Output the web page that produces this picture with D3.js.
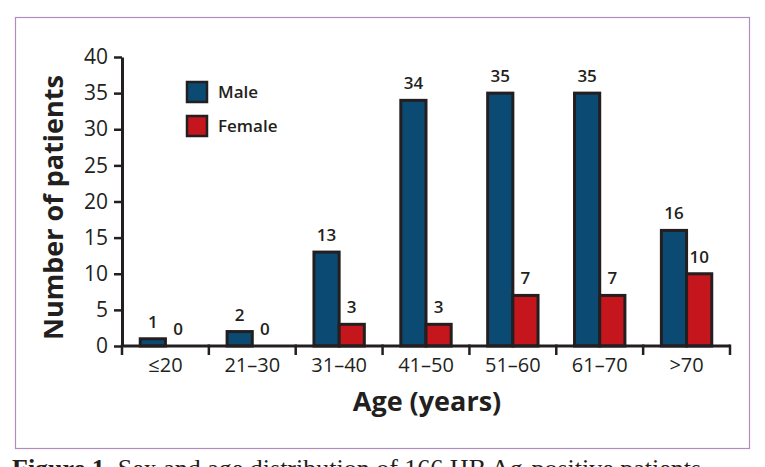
<!DOCTYPE html>
<html>
<head>
<meta charset="utf-8">
<script src="https://cdn.jsdelivr.net/npm/d3@7"></script>
<style>
  html, body { margin: 0; padding: 0; background: #fff; }
  svg { display: block; }
</style>
</head>
<body>
<div id="chart"></div>
<script>
// Data
const ageGroups   = ["≤20", "21–30", "31–40", "41–50", "51–60", "61–70", ">70"];
const maleCounts   = [1, 2, 13, 34, 35, 35, 16];
const femaleCounts = [0, 0, 3, 3, 7, 7, 10];
const seriesNames  = ["Male", "Female"];
const yTicks       = [0, 5, 10, 15, 20, 25, 30, 35, 40];

const config = {
  width      : 765,
  height     : 467,
  margin     : { left: 122, right: 35, top: 57, bottom: 121 },
  colors     : { Male: "#0b4a72", Female: "#c4161c" },
  stroke     : "#231f20",
  frameColor : "#b08cc0",
  font       : "'Open Sans', 'Noto Sans', sans-serif",
  serif      : "'Liberation Serif', 'DejaVu Serif', serif",
};

const rows = ageGroups.map(function (g, i) {
  return { group: g, Male: maleCounts[i], Female: femaleCounts[i] };
});

const svg = d3.select("#chart")
  .append("svg")
    .attr("width", config.width)
    .attr("height", config.height);

// figure frame
svg.append("rect")
    .attr("x", 15.5)
    .attr("y", 17.5)
    .attr("width", 734)
    .attr("height", 431)
    .attr("fill", "none")
    .attr("stroke", config.frameColor)
    .attr("stroke-width", 1.2);

const plotW = config.width - config.margin.left - config.margin.right;
const plotH = config.height - config.margin.top - config.margin.bottom;

const g = svg.append("g")
    .attr("transform", "translate(" + config.margin.left + "," + config.margin.top + ")");

const x0 = d3.scaleBand()
  .domain(ageGroups)
  .range([0, plotW])
  .paddingInner(0)
  .paddingOuter(0);

const bw = x0.bandwidth();
const x1 = d3.scaleBand()
  .domain(seriesNames)
  .range([bw * 0.21, bw * 0.79]);

const y = d3.scaleLinear()
  .domain([0, 40])
  .range([plotH, 0]);

// bars
const groups = g.selectAll(".group")
  .data(rows)
  .enter()
  .append("g")
    .attr("class", "group")
    .attr("transform", function (d) { return "translate(" + x0(d.group) + ",0)"; });

groups.selectAll("rect")
  .data(function (d) { return seriesNames.map(function (k) { return { key: k, value: d[k] }; }); })
  .enter()
  .filter(function (d) { return d.value > 0; })
  .append("rect")
    .attr("x", function (d) { return x1(d.key); })
    .attr("y", function (d) { return y(d.value); })
    .attr("width", x1.bandwidth())
    .attr("height", function (d) { return plotH - y(d.value); })
    .attr("fill", function (d) { return config.colors[d.key]; })
    .attr("stroke", config.stroke)
    .attr("stroke-width", 3);

// value labels
groups.selectAll(".val")
  .data(function (d) { return seriesNames.map(function (k) { return { key: k, value: d[k] }; }); })
  .enter()
  .append("text")
    .attr("class", "val")
    .attr("x", function (d) { return x1(d.key) + x1.bandwidth() / 2; })
    .attr("y", function (d) { return y(d.value) - 11; })
    .attr("text-anchor", "middle")
    .style("font-family", config.font)
    .style("font-size", "17px")
    .style("font-weight", 600)
    .style("fill", "#231f20")
    .text(function (d) { return d.value; });

// y axis
const yAxis = g.append("g")
  .call(d3.axisLeft(y).tickValues(yTicks).tickSize(8).tickPadding(6).tickSizeOuter(0));
yAxis.select(".domain").attr("stroke", config.stroke).attr("stroke-width", 3);
yAxis.selectAll(".tick line").attr("stroke", config.stroke).attr("stroke-width", 2.5);
yAxis.selectAll(".tick text")
    .style("font-family", config.font)
    .style("font-size", "21px")
    .style("fill", "#231f20");

// x axis: ticks on band boundaries, labels centred in bands
const xEdges = ageGroups.map(function (a) { return x0(a); }).concat([plotW]);
const xAxis = g.append("g").attr("transform", "translate(0," + plotH + ")");
xAxis.append("line")
    .attr("x1", 0).attr("x2", plotW)
    .attr("stroke", config.stroke).attr("stroke-width", 3);
xAxis.selectAll(".edge")
  .data(xEdges)
  .enter()
  .append("line")
    .attr("class", "edge")
    .attr("x1", function (d) { return d; })
    .attr("x2", function (d) { return d; })
    .attr("y1", -1.5)
    .attr("y2", 9)
    .attr("stroke", config.stroke)
    .attr("stroke-width", 2.5);
xAxis.selectAll(".lab")
  .data(ageGroups)
  .enter()
  .append("text")
    .attr("class", "lab")
    .attr("x", function (d) { return x0(d) + bw / 2; })
    .attr("y", 26)
    .attr("text-anchor", "middle")
    .style("font-family", config.font)
    .style("font-size", "20px")
    .style("fill", "#231f20")
    .text(function (d) { return d; });

// axis titles
svg.append("text")
    .attr("transform", "translate(63," + (config.margin.top + plotH / 2 + 6) + ") rotate(-90)")
    .attr("text-anchor", "middle")
    .style("font-family", config.font)
    .style("font-size", "27px")
    .style("font-weight", 700)
    .style("fill", "#231f20")
    .text("Number of patients");

svg.append("text")
    .attr("x", 427)
    .attr("y", 411)
    .attr("text-anchor", "middle")
    .style("font-family", config.font)
    .style("font-size", "27px")
    .style("font-weight", 700)
    .style("fill", "#231f20")
    .text("Age (years)");

// legend
const legend = svg.append("g").attr("transform", "translate(187,82)");
const items = legend.selectAll(".item")
  .data(seriesNames)
  .enter()
  .append("g")
    .attr("class", "item")
    .attr("transform", function (d, i) { return "translate(0," + i * 34 + ")"; });
items.append("rect")
    .attr("width", 20)
    .attr("height", 20)
    .attr("fill", function (d) { return config.colors[d]; })
    .attr("stroke", config.stroke)
    .attr("stroke-width", 2.5);
items.append("text")
    .attr("x", 31)
    .attr("y", 16)
    .style("font-family", config.font)
    .style("font-size", "17px")
    .style("font-weight", 600)
    .style("fill", "#231f20")
    .text(function (d) { return d; });

// caption (cut off by the page edge in the source image)
const cap = svg.append("text")
    .attr("x", 12)
    .attr("y", 477)
    .style("font-family", config.serif)
    .style("font-size", "26px")
    .style("fill", "#231f20");
cap.append("tspan").style("font-weight", 700).text("Figure 1.");
cap.append("tspan").text(" Sex and age distribution of 166 HB Ag-positive patients");
</script>
</body>
</html>
